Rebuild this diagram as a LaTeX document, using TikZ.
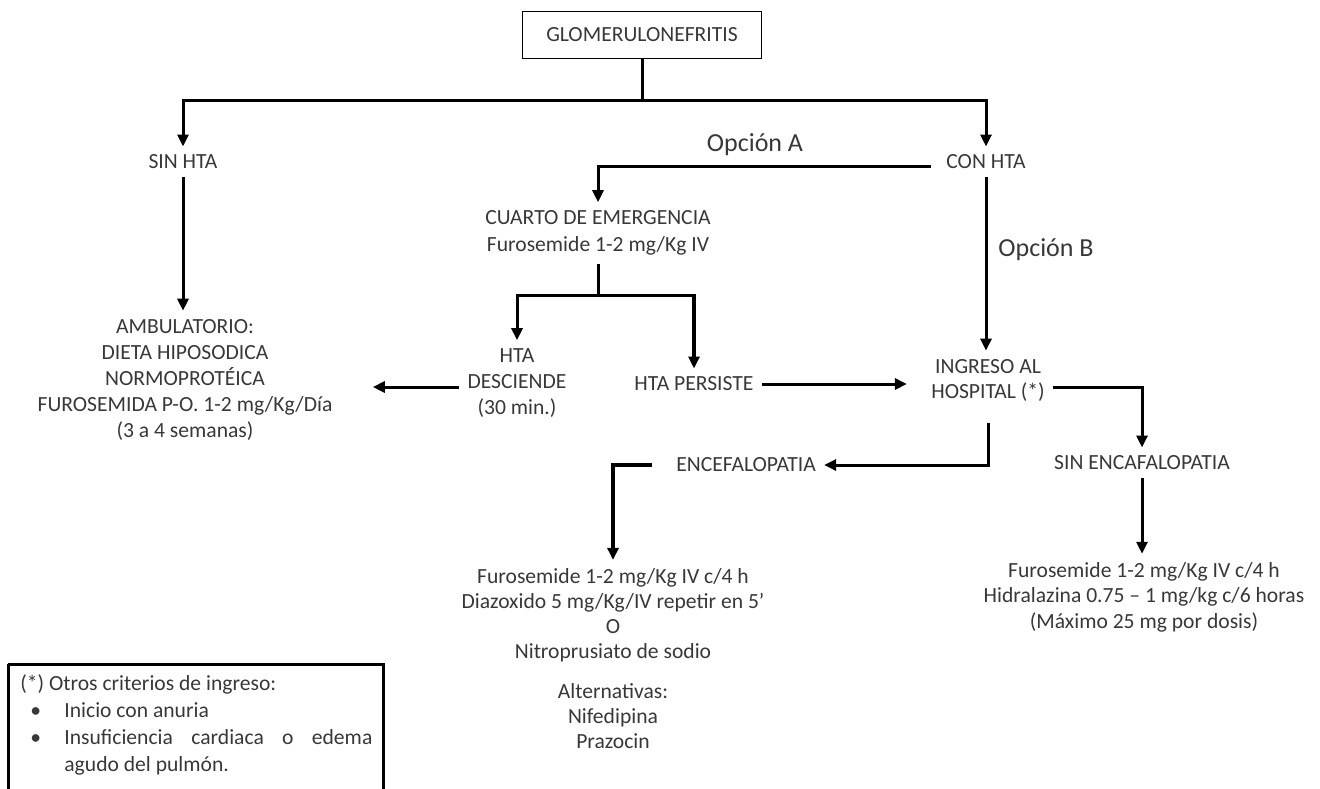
\documentclass[tikz,border=0pt]{standalone}
\usepackage{fontspec}
\setmainfont{Carlito}
\usetikzlibrary{arrows.meta}
\begin{document}
\begin{tikzpicture}[x=0.5pt,y=-0.5pt,
  txt/.style={align=center,text=black!78,font=\fontsize{10.8}{13}\selectfont,inner sep=4pt},
  opcion/.style={text=black!78,font=\fontsize{13}{15}\selectfont,inner sep=0pt},
  flecha/.style={line width=1.5pt,-{Triangle[length=6pt,width=5.5pt]}},
  gruesa/.style={flecha,line width=2pt}]
\useasboundingbox (0,0) rectangle (1320,788);
\node[txt,draw=black,line width=0.9pt,minimum width=119.5pt,minimum height=23.5pt] (glom) at (642,35) {GLOMERULONEFRITIS};
\node[txt] (sinhta) at (183,162) {SIN HTA};
\node[txt] (conhta) at (986,162) {CON HTA};
\node[opcion] (opa) at (755,145) {Opción A};
\node[opcion] (opb) at (1046,250) {Opción B};
\node[txt,font=\fontsize{10.8}{13.5}\selectfont] (cuarto) at (598,233) {CUARTO DE EMERGENCIA\\Furosemide 1-2 mg/Kg IV};
\node[txt,font=\fontsize{10.8}{13.1}\selectfont] (amb) at (185,380) {AMBULATORIO:\\DIETA HIPOSODICA\\NORMOPROTÉICA\\FUROSEMIDA P-O. 1-2 mg/Kg/Día\\(3 a 4 semanas)};
\node[txt] (desc) at (517,383) {HTA\\DESCIENDE\\(30 min.)};
\node[txt] (pers) at (694,384) {HTA PERSISTE};
\node[txt,font=\fontsize{10.8}{12.5}\selectfont] (ingreso) at (988,380) {INGRESO AL\\HOSPITAL (*)};
\node[txt] (encef) at (746,465) {ENCEFALOPATIA};
\node[txt] (sinenc) at (1142,463) {SIN ENCAFALOPATIA};
\node[txt,font=\fontsize{10.8}{12.5}\selectfont] (trat1) at (613,615) {Furosemide 1-2 mg/Kg IV c/4 h\\Diazoxido 5 mg/Kg/IV repetir en 5’\\O\\Nitroprusiato de sodio};
\node[txt,font=\fontsize{10.8}{12.5}\selectfont] (alt) at (613,716) {Alternativas:\\Nifedipina\\Prazocin};
\node[txt,font=\fontsize{10.8}{12.75}\selectfont] (trat2) at (1144,597) {Furosemide 1-2 mg/Kg IV c/4 h\\Hidralazina 0.75 – 1 mg/kg c/6 horas\\(Máximo 25 mg por dosis)};
\draw[line width=1.5pt] (8,664) -- (383,664) -- (383,800) (8,664) -- (8,800);
\node[txt,align=left,anchor=north west,font=\fontsize{10.8}{13.5}\selectfont] (nota) at (12,666) {(*) Otros criterios de ingreso:\\
\makebox[22pt][l]{\hspace{5pt}\textbullet}Inicio con anuria\\
\makebox[22pt][l]{\hspace{5pt}\textbullet}\makebox[154pt][s]{Insuficiencia cardiaca o edema}\\
\hspace*{22pt}agudo del pulmón.};
\draw[flecha] (glom.south) -- ++(0,41) -| (sinhta.north);
\draw[flecha] (glom.south) -- ++(0,41) -| (conhta.north);
\draw[flecha] (sinhta.south) -- (sinhta.south |- amb.north);
\draw[flecha] ([xshift=-3.5pt,yshift=-2pt]conhta.west) -| (cuarto.north);
\draw[flecha] (cuarto.south) -- ++(0,32) coordinate (rama) -| (desc.north);
\draw[line width=1.5pt] (rama) -| ([yshift=6pt]pers.north);
\draw[gruesa] (rama -| pers.north) -- (pers.north);
\draw[flecha,shorten >=16pt] ([yshift=-2pt]desc.west) -- ([yshift=-2pt]desc.west -| amb.east);
\draw[flecha,shorten >=8pt] (pers.east) -- (pers.east -| ingreso.west);
\draw[flecha] (conhta.south) -- (conhta.south |- ingreso.north);
\draw[flecha] ([yshift=-3.5pt]ingreso.east) -| (sinenc.north);
\draw[flecha] ([yshift=-7pt]ingreso.south) |- (encef.east);
\draw[gruesa] ([xshift=-8pt]encef.west) -| (trat1.north);
\draw[flecha] (sinenc.south) -- (sinenc.south |- trat2.north);
\end{tikzpicture}
\end{document}
